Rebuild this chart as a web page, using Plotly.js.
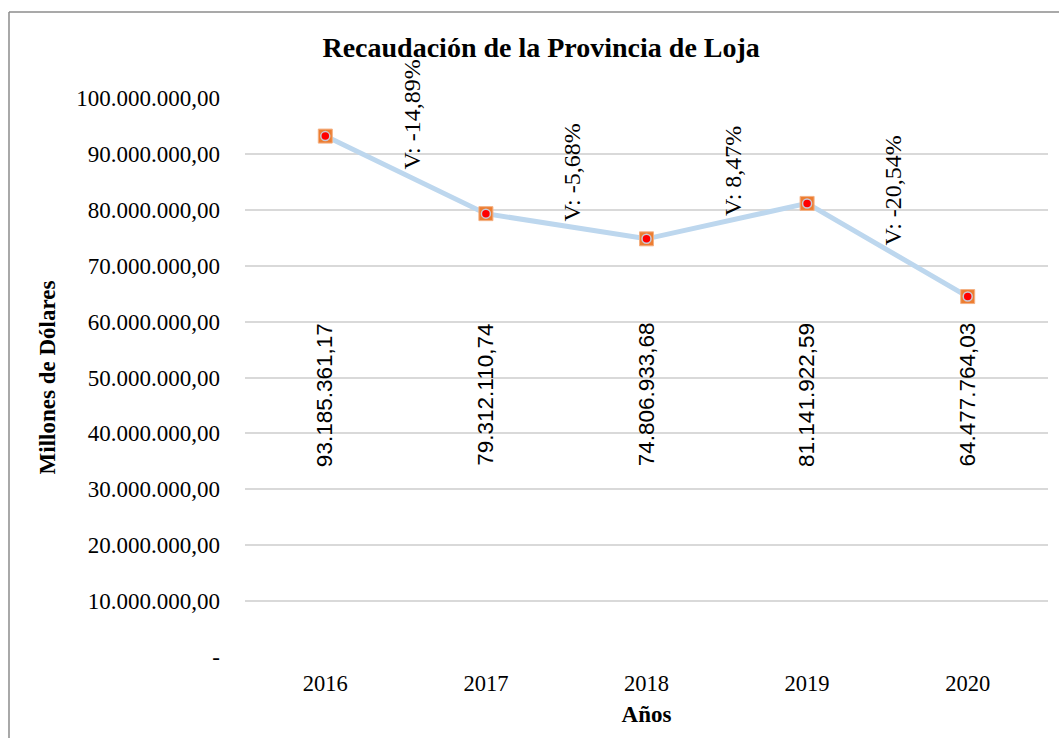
<!DOCTYPE html>
<html>
<head>
<meta charset="utf-8">
<script src="https://cdn.plot.ly/plotly-3.0.1.min.js"></script>
<style>html,body{margin:0;padding:0;background:#fff;}#chart{width:1059px;height:738px;}</style>
</head>
<body>
<div id="chart"></div>
<script>
// ---- data ----
const years = ['2016', '2017', '2018', '2019', '2020'];
const recaudacion = [93185361.17, 79312110.74, 74806933.68, 81141922.59, 64477764.03];
const variaciones = [-14.89, -5.68, 8.47, -20.54];
const yTickVals = [0, 10000000, 20000000, 30000000, 40000000, 50000000, 60000000, 70000000, 80000000, 90000000, 100000000];
const yTickText = ['-', '10.000.000,00', '20.000.000,00', '30.000.000,00', '40.000.000,00', '50.000.000,00', '60.000.000,00', '70.000.000,00', '80.000.000,00', '90.000.000,00', '100.000.000,00'];

function fmtNum(v) {
  const parts = v.toFixed(2).split('.');
  const intPart = parts[0].replace(/\B(?=(\d{3})+(?!\d))/g, '.');
  return intPart + ',' + parts[1];
}
function fmtPct(p) {
  return 'V: ' + p.toFixed(2).replace('.', ',') + '%';
}

const serif = 'Liberation Serif, Times New Roman, serif';

const traces = [
  {
    x: years, y: recaudacion, type: 'scatter', mode: 'lines',
    line: {color: '#BDD7EE', width: 5}, hoverinfo: 'skip', showlegend: false
  },
  {
    x: years, y: recaudacion, type: 'scatter', mode: 'markers',
    marker: {symbol: 'square', size: 14, color: '#ED7D31', line: {color: '#F4B183', width: 1}},
    showlegend: false
  },
  {
    x: years, y: recaudacion, type: 'scatter', mode: 'markers',
    marker: {symbol: 'circle', size: 9, color: '#FF0000', line: {color: '#C9C9D6', width: 1.5}},
    showlegend: false
  }
];

const annotations = [];
years.forEach((yr, i) => {
  annotations.push({
    x: i, xref: 'x', y: 0.469, yref: 'paper',
    text: fmtNum(recaudacion[i]), textangle: -90, showarrow: false,
    xanchor: 'center', yanchor: 'middle',
    font: {family: 'Liberation Sans, Arial, sans-serif', size: 22.5, color: '#000'}
  });
});
variaciones.forEach((p, i) => {
  annotations.push({
    x: i + 0.5, xref: 'x', y: (recaudacion[i] + recaudacion[i + 1]) / 2, yref: 'y',
    text: fmtPct(p), textangle: -90, showarrow: false,
    xanchor: 'center', yanchor: 'bottom', xshift: 6, yshift: 3,
    font: {family: serif, size: 24, color: '#000'}
  });
});

const layout = {
  width: 1059, height: 738,
  paper_bgcolor: '#fff', plot_bgcolor: '#fff',
  margin: {l: 245, r: 11, t: 98, b: 81},
  title: {
    text: '<b>Recaudación de la Provincia de Loja</b>',
    font: {family: serif, size: 28, color: '#000'},
    x: 0.511, xref: 'container', xanchor: 'center',
    y: 0.936, yref: 'container', yanchor: 'middle'
  },
  xaxis: {
    type: 'category', range: [-0.5, 4.5], showgrid: false, zeroline: false, showline: false,
    ticks: '', ticklabelstandoff: 10,
    tickfont: {family: serif, size: 22.5, color: '#000'},
    title: {text: '<b>Años</b>', font: {family: serif, size: 23, color: '#000'}, standoff: 11},
    fixedrange: true
  },
  yaxis: {
    range: [0, 100000000], tickvals: yTickVals, ticktext: yTickText,
    showgrid: true, gridcolor: '#D9D9D9', gridwidth: 2,
    zeroline: false, showline: false, ticks: '', ticklabelstandoff: 24,
    tickfont: {family: serif, size: 23, color: '#000'},
    title: {text: '<b>Millones de Dólares</b>', font: {family: serif, size: 23, color: '#000'}, standoff: 14},
    fixedrange: true
  },
  annotations: annotations,
  shapes: [
    {type: 'line', xref: 'paper', yref: 'paper', x0: -0.2939, x1: -0.2939, y0: 1.1539, y1: -0.3,
     line: {color: '#8C8C8C', width: 1.5}},
    {type: 'line', xref: 'paper', yref: 'paper', x0: -0.2939, x1: 1.05, y0: 1.1539, y1: 1.1539,
     line: {color: '#8C8C8C', width: 1.5}}
  ],
  showlegend: false
};

Plotly.newPlot('chart', traces, layout, {displayModeBar: false, staticPlot: true});
</script>
</body>
</html>
